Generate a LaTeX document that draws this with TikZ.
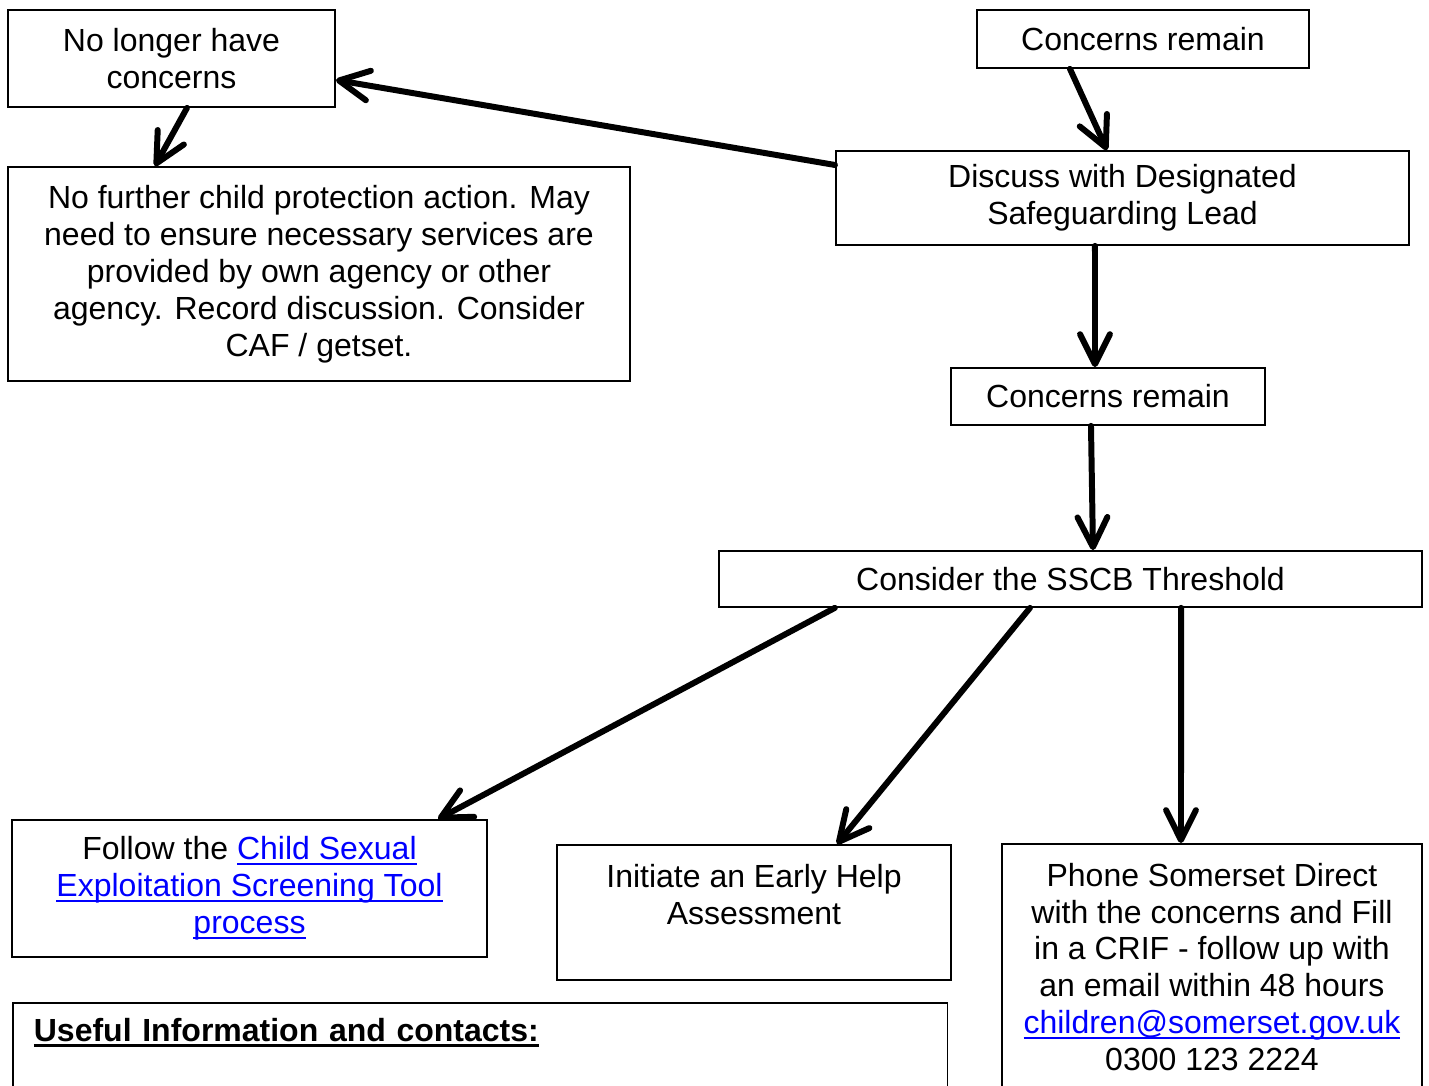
\documentclass[tikz,border=0pt]{standalone}
\usepackage{fontspec}
\setmainfont{Liberation Sans}
\usepackage{xcolor}
\usetikzlibrary{arrows.meta}
\definecolor{linkblue}{RGB}{0,0,255}
\newcommand{\ulined}[2][0.6pt]{\setbox0\hbox{#2}\rlap{\rule[-1.4pt]{\wd0}{#1}}\box0}

\begin{document}
\begin{tikzpicture}[x=0.01cm, y=-0.01cm,
    box/.style={draw, line width=0.5pt, align=center, inner sep=0pt, font={\fontsize{9.1pt}{10.5pt}\selectfont}},
    flow/.style={-{Straight Barb[length=8.5pt,width=8.5pt,round]}, line width=1.7pt, line cap=round}]
    \useasboundingbox (0,0) rectangle (1429,1086);

    \node[box, minimum width=3.27cm, minimum height=0.97cm] at (171.5, 58.5) (no_longer) {No longer have\\concerns};
    \node[box, minimum width=3.32cm, minimum height=0.58cm] at (1143, 39) (concerns_1) {Concerns remain};
    \node[box, minimum width=5.73cm, minimum height=0.94cm] at (1122.5, 198) (discuss) {Discuss with Designated\\Safeguarding Lead};
    \node[box, minimum width=6.22cm, minimum height=2.14cm] at (319, 274) (no_further) {No further child protection action. May\\need to ensure necessary services are\\provided by own agency or other\\agency. Record discussion. Consider\\CAF / getset.};
    \node[box, minimum width=3.14cm, minimum height=0.57cm] at (1108, 396.5) (concerns_2) {Concerns remain};
    \node[box, minimum width=7.03cm, minimum height=0.56cm] at (1070.5, 579) (sscb) {Consider the SSCB Threshold};
    \node[box, minimum width=4.75cm, minimum height=1.37cm] at (249.5, 888.5) (cse) {Follow the {\color{linkblue}\ulined{Child Sexual}}\\{\color{linkblue}\ulined{Exploitation Screening Tool}}\\{\color{linkblue}\ulined{process}}};
    \node[box, minimum width=3.94cm, minimum height=1.35cm] at (754, 912.5) (early_help) {Initiate an Early Help\\Assessment\\\mbox{}};
    \node[box, minimum width=4.2cm, minimum height=2.46cm] at (1212, 967) (phone) {Phone Somerset Direct\\with the concerns and Fill\\in a CRIF - follow up with\\an email within 48 hours\\{\color{linkblue}\ulined{children@somerset.gov.uk}}\\0300 123 2224};
    \node[box, anchor=north west, align=left, minimum width=9.34cm, text width=8.92cm, inner xsep=0.21cm, inner ysep=0.14cm, text height=0.25cm, text depth=1cm] at (12, 1002) (useful) {\ulined[0.9pt]{\bfseries Useful Information and contacts:}};

    % connectors
    \draw[flow] ([xshift=-0.73cm]concerns_1.south) -- ([xshift=-0.155cm]discuss.north);
    \draw[flow] ([yshift=0.33cm]discuss.west) -- ([yshift=-0.215cm]no_longer.east);
    \draw[flow] ([xshift=0.155cm]no_longer.south) -- ([xshift=-1.64cm]no_further.north);
    \draw[flow] ([xshift=-0.275cm]discuss.south) -- ([xshift=-0.13cm]concerns_2.north);
    \draw[flow] ([xshift=-0.17cm]concerns_2.south) -- ([xshift=0.225cm]sscb.north);
    \draw[flow] ([xshift=-2.355cm]sscb.south) -- ([xshift=1.885cm]cse.north);
    \draw[flow] ([xshift=-0.405cm]sscb.south) -- ([xshift=0.83cm]early_help.north);
    \draw[flow] ([xshift=1.105cm]sscb.south) -- ([xshift=-0.31cm]phone.north);
\end{tikzpicture}
\end{document}
